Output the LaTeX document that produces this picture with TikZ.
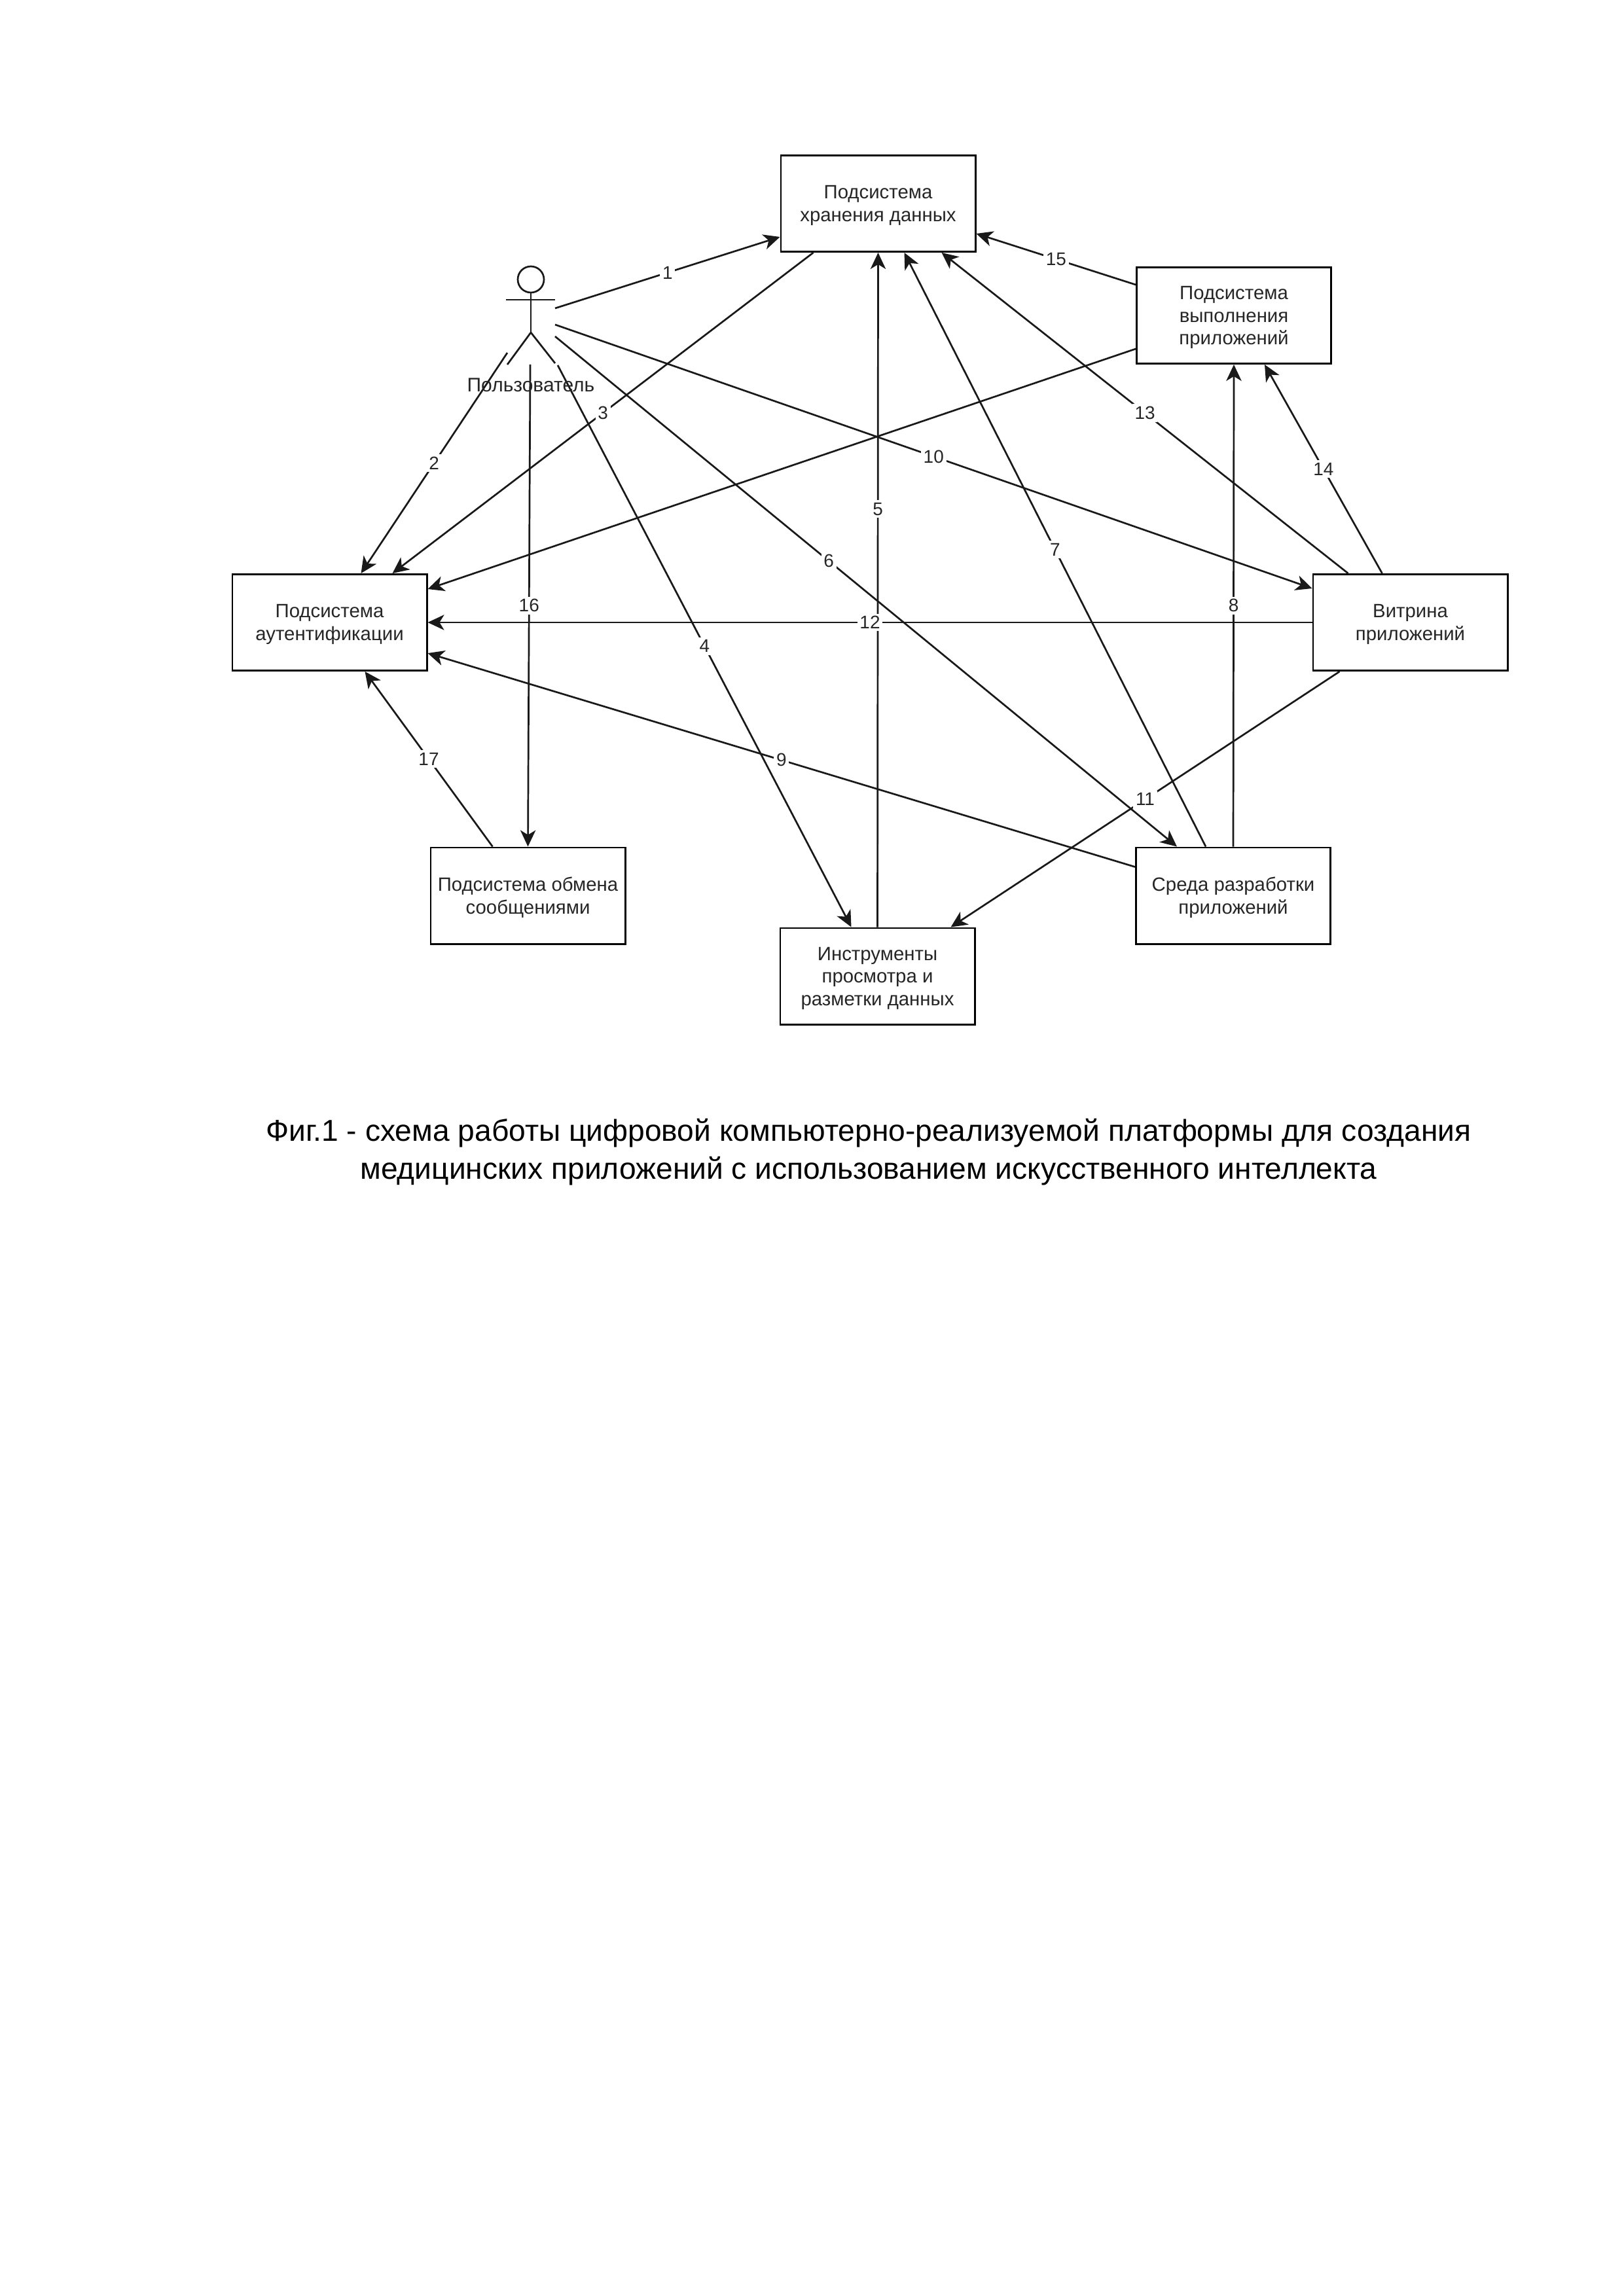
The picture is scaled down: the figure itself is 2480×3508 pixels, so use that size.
\documentclass[tikz,border=0pt]{standalone}
\usepackage{fontspec}
\setmainfont{Liberation Sans}
\usetikzlibrary{arrows.meta,calc}
\tikzset{
  boxn/.style={draw=black,line width=0.7pt,fill=white,minimum width=71.3pt,minimum height=35.3pt,inner sep=0pt,align=center,text depth=0pt,font=\fontsize{7.05}{8.3}\selectfont,text=black!85},
  conn/.style={draw=black!90,line width=0.65pt,-{Stealth[length=6pt,width=5.6pt,inset=1.7pt]}},
  lab/.style={fill=white,inner sep=0.9pt,font=\fontsize{6.7}{8}\selectfont,text=black!85},
  stick/.style={draw=black!90,line width=0.65pt},
  capt/.style={align=center,font=\fontsize{11.08}{14}\selectfont,inner sep=0pt}
}
\begin{document}
\begin{tikzpicture}[x=0.24pt,y=-0.24pt]
\useasboundingbox (0,0) rectangle (2480,3508);
\fill[white] (0,0) rectangle (2480,3508);
\node[boxn] (store) at (1341.5,311) {Подсистема\\хранения данных};
\node[boxn] (exec) at (1885,482) {Подсистема\\выполнения\\приложений};
\node[boxn] (auth) at (503.5,951) {Подсистема\\аутентификации};
\node[boxn] (vit) at (2154.5,951) {Витрина\\приложений};
\node[boxn] (dev) at (1884,1368.5) {Среда разработки\\приложений};
\node[boxn] (msg) at (806.5,1368.5) {Подсистема обмена\\сообщениями};
\node[boxn] (tools) at (1340.5,1491.5) {Инструменты\\просмотра и\\разметки данных};
% actor
\coordinate (act) at (811,427);
\node[circle,stick,minimum size=9.6pt,inner sep=0pt] (head) at (act) {};
\coordinate (hip) at (811,508);
\coordinate (armL) at (773,458);
\coordinate (armR) at (848,458);
\coordinate (legL) at (775,557);
\coordinate (legR) at (848,555);
\draw[stick] (head.south) -- (hip);
\draw[stick] (armL) -- (armR);
\draw[stick] (legL) -- (hip) -- (legR);
\coordinate (s1) at (848,471);
\coordinate (s10) at (848,496);
\coordinate (s6) at (848,514);
\coordinate (s2) at (775,539);
\coordinate (s16) at (810,557);
\coordinate (s4) at (852,558);
% connectors
\draw[conn] (s1) -- node[lab]{1} ($(store.west)+(0,51)$);
\draw[conn] (s2) -- node[lab]{2} ($(auth.north)+(48,0)$);
\draw[conn] ($(store.south)+(-99,0)$) -- node[lab]{3} ($(auth.north)+(96,0)$);
\draw[conn] (s4) -- node[lab]{4} ($(tools.north)+(-40,0)$);
\draw[conn] (tools.north) -- node[lab,pos=0.62]{5} (store.south);
\draw[conn] (s6) -- node[lab,pos=0.44]{6} ($(dev.north)+(-86,0)$);
\draw[conn] ($(dev.north)+(-42,0)$) -- node[lab]{7} ($(store.south)+(40,0)$);
\draw[conn] (dev.north) -- node[lab]{8} (exec.south);
\draw[conn] ($(dev.west)+(0,-44)$) -- node[lab]{9} ($(auth.east)+(0,47)$);
\draw[conn] (s10) -- node[lab]{10} ($(vit.west)+(0,-52)$);
\draw[conn] ($(vit.south)+(-108,0)$) -- node[lab]{11} ($(tools.north)+(112,0)$);
\draw[conn] (vit.west) -- node[lab]{12} (auth.east);
\draw[conn] ($(vit.north)+(-95,0)$) -- node[lab]{13} ($(store.south)+(97,0)$);
\draw[conn] ($(vit.north)+(-43,0)$) -- node[lab]{14} ($(exec.south)+(47,0)$);
\draw[conn] ($(exec.west)+(0,-47)$) -- node[lab]{15} ($(store.east)+(0,46)$);
\draw[conn] (s16) -- node[lab]{16} (msg.north);
\draw[conn] ($(msg.north)+(-54,0)$) -- node[lab]{17} ($(auth.south)+(54,0)$);
\draw[conn] ($(exec.west)+(0,51)$) -- ($(auth.east)+(0,-51)$);
\node[font=\fontsize{7.2}{8.2}\selectfont,inner sep=0pt,text=black!85] (actorname) at (811,588) {Пользователь};
\node[capt] (caption) at (1327,1760) {Фиг.1 - схема работы цифровой компьютерно-реализуемой платформы для создания\\медицинских приложений с использованием искусственного интеллекта};
\end{tikzpicture}
\end{document}
